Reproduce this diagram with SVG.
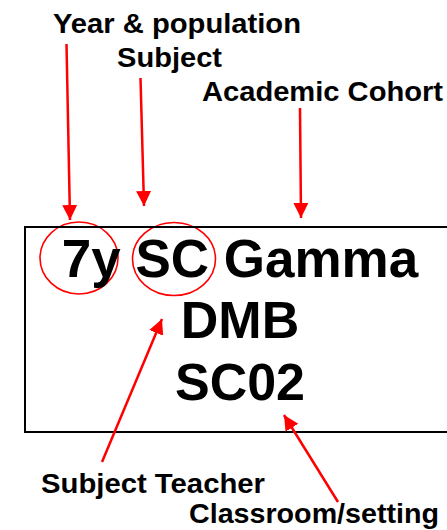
<svg xmlns="http://www.w3.org/2000/svg" width="447" height="530" viewBox="0 0 447 530">
  <style>
    .lbl { font-family: "Liberation Sans", Arial, sans-serif; font-weight: bold; font-size: 28px; fill: #000; }
    .main { font-family: "Liberation Sans", Arial, sans-serif; font-weight: bold; fill: #000; text-anchor: middle; }
    .arrow { stroke: #ff0000; stroke-width: 2.5; fill: none; marker-end: url(#head); }
    .ring { stroke: #ff0000; stroke-width: 1.6; fill: none; }
  </style>
  <defs>
    <marker id="head" markerUnits="userSpaceOnUse" markerWidth="16" markerHeight="16" viewBox="0 0 16 16" refX="15" refY="7.5" orient="auto">
      <path d="M0,0 L15,7.5 L0,15 z" fill="#ff0000"/>
    </marker>
  </defs>
  <rect width="447" height="530" fill="#fff"/>

  <g id="ring-year">
    <ellipse class="ring" cx="79" cy="258" rx="39" ry="36"/>
  </g>
  <g id="ring-subject">
    <ellipse class="ring" cx="174" cy="259" rx="41.5" ry="36.5"/>
  </g>

  <g id="card">
    <rect x="25" y="227" width="440" height="205" fill="none" stroke="#000" stroke-width="2"/>
    <text class="main" x="240" y="277" font-size="53">7y SC Gamma</text>
    <text class="main" x="240" y="338" font-size="52">DMB</text>
    <text class="main" x="240" y="400" font-size="52">SC02</text>
  </g>

  <g id="label-year"><text class="lbl" x="53" y="33" textLength="248" lengthAdjust="spacingAndGlyphs">Year &amp; population</text></g>
  <g id="label-subject"><text class="lbl" x="117" y="67" textLength="105" lengthAdjust="spacingAndGlyphs">Subject</text></g>
  <g id="label-cohort"><text class="lbl" x="202" y="101" textLength="241" lengthAdjust="spacingAndGlyphs">Academic Cohort</text></g>
  <g id="label-teacher"><text class="lbl" x="41" y="493" textLength="224" lengthAdjust="spacingAndGlyphs">Subject Teacher</text></g>
  <g id="label-room"><text class="lbl" x="189" y="523" textLength="250" lengthAdjust="spacingAndGlyphs">Classroom/setting</text></g>

  <g id="connectors">
    <line class="arrow" x1="66.5" y1="44" x2="70" y2="220"/>
    <line class="arrow" x1="140.5" y1="78" x2="144" y2="206"/>
    <line class="arrow" x1="300" y1="108" x2="301" y2="218"/>
    <line class="arrow" x1="102" y1="462" x2="162" y2="319"/>
    <line class="arrow" x1="338" y1="502" x2="284" y2="415"/>
  </g>
</svg>
